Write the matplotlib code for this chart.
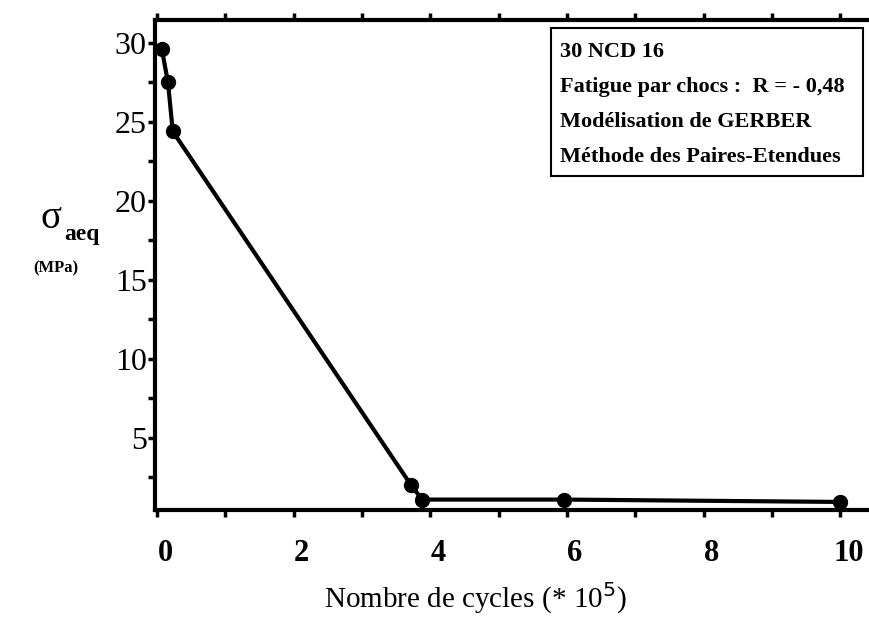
import matplotlib
matplotlib.use("Agg")
import matplotlib.pyplot as plt
from matplotlib.ticker import MultipleLocator
from matplotlib.transforms import ScaledTranslation

# fatigue curve: cycles (x 1e5) vs equivalent stress
cycles = [0.07, 0.16, 0.23, 3.72, 3.88, 5.95, 10.0]
sigma_aeq = [29.6, 27.5, 24.4, 2.0, 1.1, 1.1, 0.95]

x_ticks = [0, 2, 4, 6, 8, 10]
y_ticks = [5, 10, 15, 20, 25, 30]
info_lines = [
    "30 NCD 16",
    "Fatigue par chocs :  R = - 0,48",
    "Modélisation de GERBER",
    "Méthode des Paires-Etendues",
]

plt.rcParams["font.family"] = ["Liberation Serif", "DejaVu Serif"]

fig = plt.figure(figsize=(8.69, 6.26), dpi=100)
ax = fig.add_axes([155 / 869, 116 / 626, 1 - 155 / 869, 490 / 626])

ax.plot(cycles, sigma_aeq, color="black", lw=3.0, marker="o", ms=10,
        solid_joinstyle="round")

ax.set_xlim(-0.03, 10.42)
ax.set_ylim(0.44, 31.45)

ax.spines["right"].set_visible(False)
for side in ("left", "bottom", "top"):
    ax.spines[side].set_linewidth(3.0)

ax.set_xticks(x_ticks)
ax.set_xticklabels([str(v) for v in x_ticks], fontsize=22, fontweight="bold")
ax.xaxis.set_minor_locator(MultipleLocator(1))
ax.set_yticks(y_ticks)
ax.set_yticklabels([str(v) for v in y_ticks], fontsize=23)
ax.yaxis.set_minor_locator(MultipleLocator(2.5))

ax.tick_params(axis="x", which="both", direction="out", length=5, width=2.5,
               top=True, pad=16)
ax.tick_params(axis="y", which="both", direction="out", length=5, width=2.5,
               right=False, pad=1)

# labels sit a little right of their ticks
shift = ScaledTranslation(8 / 100, 0, fig.dpi_scale_trans)
for lab in ax.get_xticklabels():
    lab.set_transform(lab.get_transform() + shift)

fig.text(475 / 869, 1 - 598 / 626, "Nombre de cycles (* 10$^5$)",
         ha="center", va="center", fontsize=21)

# y label: sigma with bold subscript, units below
fig.text(51 / 869, 1 - 218 / 626, "σ", ha="center", va="center", fontsize=28)
fig.text(82 / 869, 1 - 234 / 626, "aeq", ha="center", va="center",
         fontsize=17, fontweight="bold")
fig.text(56 / 869, 1 - 268 / 626, "(MPa)", ha="center", va="center",
         fontsize=12, fontweight="bold")

# info box in the upper right corner
box = plt.Rectangle((551 / 869, 1 - 176 / 626), 312 / 869, 148 / 626,
                    transform=fig.transFigure, fill=False, lw=1.5,
                    edgecolor="black")
fig.add_artist(box)
for i, line in enumerate(info_lines):
    fig.text(560 / 869, 1 - (52 + 35 * i) / 626, line, ha="left",
             va="center", fontsize=16, fontweight="bold")

fig.savefig("out.png", dpi=100)
